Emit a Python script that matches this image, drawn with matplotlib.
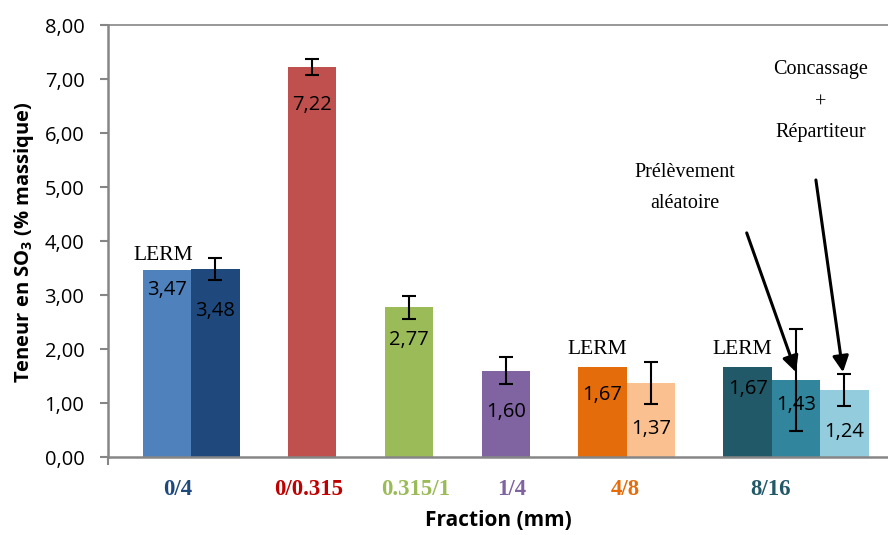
import matplotlib
matplotlib.use("Agg")
import matplotlib.pyplot as plt

# ---- data ----
categories = ["0/4", "0/0.315", "0.315/1", "1/4", "4/8", "8/16"]
cat_colors = ["#1F497D", "#C00000", "#9BBB59", "#8064A2", "#E46C0A", "#215968"]
bar_slots = [0, 1, 3, 5, 7, 9, 10, 12, 13, 14]
bar_values = [3.47, 3.48, 7.22, 2.77, 1.60, 1.67, 1.37, 1.67, 1.43, 1.24]
bar_errors = [None, 0.20, 0.15, 0.22, 0.25, None, 0.39, None, 0.94, 0.30]
bar_colors = ["#4F81BD", "#1F497D", "#C0504D", "#9BBB59", "#8064A2",
              "#E46C0A", "#FAC090", "#215968", "#31859C", "#93CDDD"]
value_labels = ["3,47", "3,48", "7,22", "2,77", "1,60", "1,67", "1,37", "1,67", "1,43", "1,24"]
yticks = [0, 1, 2, 3, 4, 5, 6, 7, 8]
ytick_labels = ["0,00", "1,00", "2,00", "3,00", "4,00", "5,00", "6,00", "7,00", "8,00"]

# label placement (layout)
value_label_y = [3.09, 2.71, 6.52, 2.17, 0.84, 1.15, 0.52, 1.26, 0.96, 0.46]
cat_label_x = [0.23, 2.93, 5.14, 7.12, 9.48, 12.48]

plt.rcParams["mathtext.fontset"] = "custom"
plt.rcParams["mathtext.bf"] = "Open Sans:bold"
plt.rcParams["mathtext.rm"] = "Open Sans:bold"

W, H = 888, 535
fig = plt.figure(figsize=(W / 100, H / 100), dpi=100)
ax_left, ax_right, ax_bottom, ax_top = 108, 888, 457, 25
ax = fig.add_axes([ax_left / W, 1 - ax_bottom / H, (ax_right - ax_left) / W, (ax_bottom - ax_top) / H])

sans = ["Open Sans", "DejaVu Sans"]
serif = ["Liberation Serif", "DejaVu Serif"]

ax.bar(bar_slots, bar_values, width=1.0, color=bar_colors, zorder=2)
for x, v, e in zip(bar_slots, bar_values, bar_errors):
    if e is not None:
        ax.errorbar(x, v, yerr=e, fmt="none", ecolor="black", elinewidth=1.5,
                    capsize=5, capthick=1.5, zorder=4)
for x, lab, ly in zip(bar_slots, value_labels, value_label_y):
    ax.text(x, ly, lab, ha="center", va="center", fontsize=14.5, family=sans, color="black", zorder=5)

ax.set_xlim(-1.22, 14.9)
ax.set_ylim(0, 8)
ax.set_yticks(yticks)
ax.set_yticklabels(ytick_labels, family=sans, fontsize=14.5)
ax.set_xticks([-1.22])
ax.set_xticklabels([""])
ax.tick_params(axis="both", direction="out", length=6, width=1.5, color="#868686", pad=11)

for s in ["left", "bottom", "top"]:
    ax.spines[s].set_color("#868686")
    ax.spines[s].set_linewidth(1.8)
ax.spines["top"].set_linewidth(1.2)
ax.spines["right"].set_visible(False)

# category labels below axis
for cx, c, col in zip(cat_label_x, categories, cat_colors):
    ax.text(cx, -0.6, c, ha="center", va="center", fontsize=16.5, fontweight="bold",
            family=serif, color=col, clip_on=False)

fig.text(498 / W, 1 - 521 / H, "Fraction (mm)", ha="center", va="center",
         fontsize=15, fontweight="bold", family=sans)
fig.text(24 / W, 1 - 242 / H, "Teneur en SO$_3$ (% massique)", rotation=90,
         ha="center", va="center", fontsize=14.5, fontweight="bold", family=sans)

# annotations
for (x, y) in [(-0.08, 3.74), (8.9, 2.0), (11.88, 2.0)]:
    ax.text(x, y, "LERM", ha="center", va="center", fontsize=15.5, family=serif)
ax.text(10.70, 5.26, "Prélèvement", ha="center", va="center", fontsize=14.5, family=serif)
ax.text(10.70, 4.69, "aléatoire", ha="center", va="center", fontsize=14.5, family=serif)
ax.text(13.51, 7.17, "Concassage", ha="center", va="center", fontsize=14.5, family=serif)
ax.text(13.51, 6.56, "+", ha="center", va="center", fontsize=14.5, family=serif)
ax.text(13.51, 6.00, "Répartiteur", ha="center", va="center", fontsize=14.5, family=serif)

arrow_kw = dict(arrowstyle="-|>", color="black", lw=2.2, mutation_scale=24, shrinkA=0, shrinkB=0)
ax.annotate("", xy=(13.0, 1.57), xytext=(11.98, 4.15), arrowprops=arrow_kw, zorder=6)
ax.annotate("", xy=(13.97, 1.57), xytext=(13.41, 5.13), arrowprops=arrow_kw, zorder=6)

fig.savefig("out.png", dpi=100)
